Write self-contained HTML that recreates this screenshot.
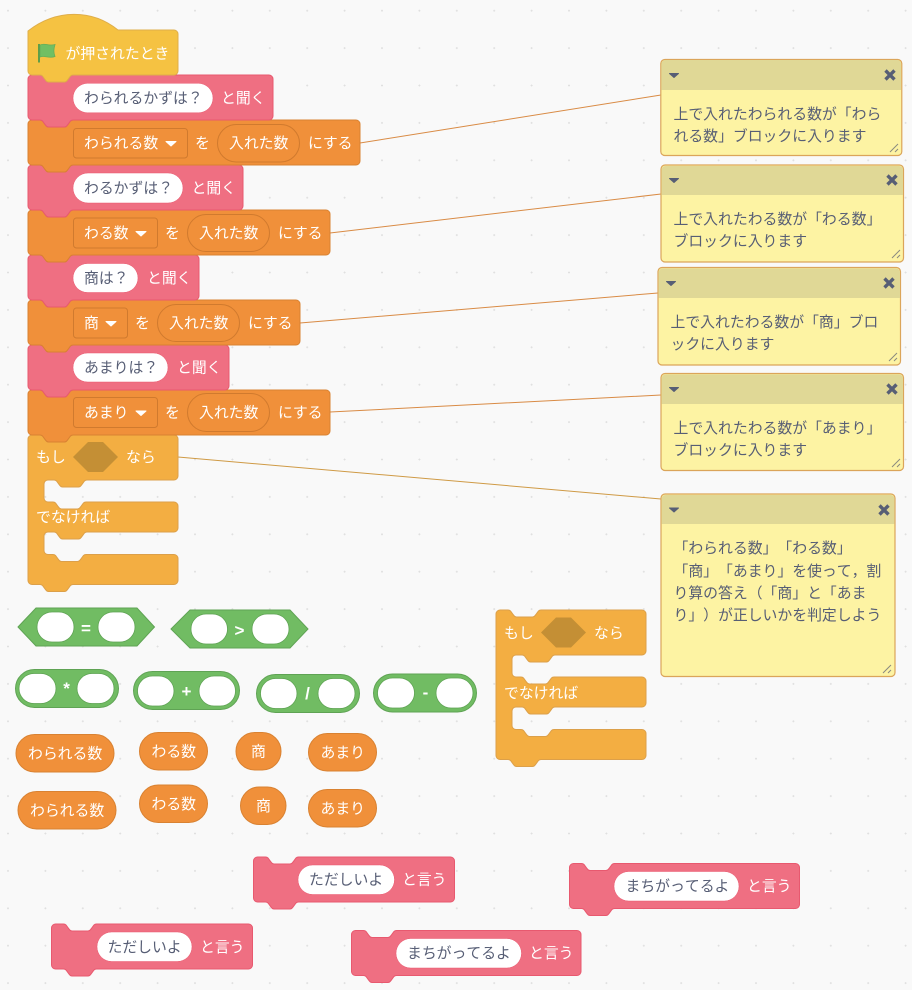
<!DOCTYPE html>
<html lang="ja"><head><meta charset="utf-8"><title>diagram</title>
<style>
html,body{margin:0;padding:0;background:#f9f9f9}
svg{display:block}
text{font-family:"Liberation Sans","Noto Sans CJK JP",sans-serif;font-size:14.85px;text-spacing-trim:space-all;font-kerning:none}
.w{fill:#fff}
.d{fill:#575e75}
.op{font-size:17px;font-weight:bold}
.pk{fill:#ef6f82;stroke:#e8596f;stroke-width:1}
.or{fill:#f0903a;stroke:#d98232;stroke-width:1}
.ct{fill:#f3ae42;stroke:#dca04a;stroke-width:1}
.gr{fill:#71bc63;stroke:#5fa354;stroke-width:1}
.gr2{fill:#71bc63;stroke:#5fa354;stroke-width:1}
.in{fill:#fff;stroke:#e8596f;stroke-width:.5}
.wh{fill:#fff;stroke:#5fa354;stroke-width:.8}
.dd{fill:#f0903a;stroke:#d07a2e;stroke-width:1}
.c{fill:#fdf3a3;stroke:#dba55a;stroke-width:1.2}
.h{fill:#e0d896}
.ln{stroke:#d98b45;stroke-width:1;fill:none}
.ic{fill:#575e75;stroke:#575e75;stroke-linejoin:round}
.x{stroke:#575e75;stroke-width:3.4;fill:none}
.r{stroke:#8a8a80;stroke-width:1;fill:none}
</style></head><body>
<svg width="912" height="990" viewBox="0 0 912 990" xmlns="http://www.w3.org/2000/svg">
<defs>
<pattern id="g" x="6.5" y="9.2" width="37.4" height="37.4" patternUnits="userSpaceOnUse">
<path d="M1.5 0.5v2M.5 1.5h2" stroke="#e0e0e0" stroke-width="1" fill="none"/>
</pattern>
<path id="ifb" class="ct" d="M28 439a4 4 0 0 1 4-4h8c1.5 0 2 .5 2.5 1l3 4c.6.7 1.2 2 3 2h16c1.8 0 2.4-1.3 3-2l3-4c.5-.5 1-1 2.5-1H174a4 4 0 0 1 4 4V476a4 4 0 0 1-4 4H87c-1.5 0-2 .5-2.5 1l-3 4c-.6.7-1.2 2-3 2h-16c-1.8 0-2.4-1.3-3-2l-3-4c-.5-.5-1-1-2.5-1H48a4 4 0 0 0-4 4V498a4 4 0 0 0 4 4H53c1.5 0 2 .5 2.5 1l3 4c.6.7 1.2 2 3 2h16c1.8 0 2.4-1.3 3-2l3-4c.5-.5 1-1 2.5-1H174a4 4 0 0 1 4 4V528a4 4 0 0 1-4 4H87c-1.5 0-2 .5-2.5 1l-3 4c-.6.7-1.2 2-3 2h-16c-1.8 0-2.4-1.3-3-2l-3-4c-.5-.5-1-1-2.5-1H48a4 4 0 0 0-4 4V550.5a4 4 0 0 0 4 4H53c1.5 0 2 .5 2.5 1l3 4c.6.7 1.2 2 3 2h16c1.8 0 2.4-1.3 3-2l3-4c.5-.5 1-1 2.5-1H174a4 4 0 0 1 4 4V580.5a4 4 0 0 1-4 4H73c-1.5 0-2 .5-2.5 1l-3 4c-.6.7-1.2 2-3 2h-16c-1.8 0-2.4-1.3-3-2l-3-4c-.5-.5-1-1-2.5-1H32a4 4 0 0 1-4-4z"/>
</defs>
<rect width="912" height="990" fill="#f9f9f9"/>
<rect width="912" height="990" fill="url(#g)"/>

<!-- connector lines -->
<path class="ln" d="M360 143L661 95M330 233L661 194M300 323L658 293M330 412L661 395"/>
<path class="ln" d="M178 457L661 499" style="stroke:#cf9a45"/>

<!-- main stack, bottom to top -->
<use href="#ifb"/>
<path class="or" d="M28 394a4 4 0 0 1 4-4h8c1.5 0 2 .5 2.5 1l3 4c.6.7 1.2 2 3 2h16c1.8 0 2.4-1.3 3-2l3-4c.5-.5 1-1 2.5-1H326a4 4 0 0 1 4 4v37a4 4 0 0 1-4 4H73c-1.5 0-2 .5-2.5 1l-3 4c-.6.7-1.2 2-3 2h-16c-1.8 0-2.4-1.3-3-2l-3-4c-.5-.5-1-1-2.5-1H32a4 4 0 0 1-4-4z"/>
<path class="pk" d="M28 349a4 4 0 0 1 4-4h8c1.5 0 2 .5 2.5 1l3 4c.6.7 1.2 2 3 2h16c1.8 0 2.4-1.3 3-2l3-4c.5-.5 1-1 2.5-1H225a4 4 0 0 1 4 4v37a4 4 0 0 1-4 4H73c-1.5 0-2 .5-2.5 1l-3 4c-.6.7-1.2 2-3 2h-16c-1.8 0-2.4-1.3-3-2l-3-4c-.5-.5-1-1-2.5-1H32a4 4 0 0 1-4-4z"/>
<path class="or" d="M28 304a4 4 0 0 1 4-4h8c1.5 0 2 .5 2.5 1l3 4c.6.7 1.2 2 3 2h16c1.8 0 2.4-1.3 3-2l3-4c.5-.5 1-1 2.5-1H296a4 4 0 0 1 4 4v37a4 4 0 0 1-4 4H73c-1.5 0-2 .5-2.5 1l-3 4c-.6.7-1.2 2-3 2h-16c-1.8 0-2.4-1.3-3-2l-3-4c-.5-.5-1-1-2.5-1H32a4 4 0 0 1-4-4z"/>
<path class="pk" d="M28 259a4 4 0 0 1 4-4h8c1.5 0 2 .5 2.5 1l3 4c.6.7 1.2 2 3 2h16c1.8 0 2.4-1.3 3-2l3-4c.5-.5 1-1 2.5-1H195a4 4 0 0 1 4 4v37a4 4 0 0 1-4 4H73c-1.5 0-2 .5-2.5 1l-3 4c-.6.7-1.2 2-3 2h-16c-1.8 0-2.4-1.3-3-2l-3-4c-.5-.5-1-1-2.5-1H32a4 4 0 0 1-4-4z"/>
<path class="or" d="M28 214a4 4 0 0 1 4-4h8c1.5 0 2 .5 2.5 1l3 4c.6.7 1.2 2 3 2h16c1.8 0 2.4-1.3 3-2l3-4c.5-.5 1-1 2.5-1H326a4 4 0 0 1 4 4v37a4 4 0 0 1-4 4H73c-1.5 0-2 .5-2.5 1l-3 4c-.6.7-1.2 2-3 2h-16c-1.8 0-2.4-1.3-3-2l-3-4c-.5-.5-1-1-2.5-1H32a4 4 0 0 1-4-4z"/>
<path class="pk" d="M28 169a4 4 0 0 1 4-4h8c1.5 0 2 .5 2.5 1l3 4c.6.7 1.2 2 3 2h16c1.8 0 2.4-1.3 3-2l3-4c.5-.5 1-1 2.5-1H239a4 4 0 0 1 4 4v37a4 4 0 0 1-4 4H73c-1.5 0-2 .5-2.5 1l-3 4c-.6.7-1.2 2-3 2h-16c-1.8 0-2.4-1.3-3-2l-3-4c-.5-.5-1-1-2.5-1H32a4 4 0 0 1-4-4z"/>
<path class="or" d="M28 124a4 4 0 0 1 4-4h8c1.5 0 2 .5 2.5 1l3 4c.6.7 1.2 2 3 2h16c1.8 0 2.4-1.3 3-2l3-4c.5-.5 1-1 2.5-1H356a4 4 0 0 1 4 4v37a4 4 0 0 1-4 4H73c-1.5 0-2 .5-2.5 1l-3 4c-.6.7-1.2 2-3 2h-16c-1.8 0-2.4-1.3-3-2l-3-4c-.5-.5-1-1-2.5-1H32a4 4 0 0 1-4-4z"/>
<path class="pk" d="M28 79a4 4 0 0 1 4-4h8c1.5 0 2 .5 2.5 1l3 4c.6.7 1.2 2 3 2h16c1.8 0 2.4-1.3 3-2l3-4c.5-.5 1-1 2.5-1H269a4 4 0 0 1 4 4v37a4 4 0 0 1-4 4H73c-1.5 0-2 .5-2.5 1l-3 4c-.6.7-1.2 2-3 2h-16c-1.8 0-2.4-1.3-3-2l-3-4c-.5-.5-1-1-2.5-1H32a4 4 0 0 1-4-4z"/>
<path d="M28 31C56 9 92 9 118 30H174a4 4 0 0 1 4 4V71a4 4 0 0 1-4 4H73c-1.5 0-2 .5-2.5 1l-3 4c-.6.7-1.2 2-3 2h-16c-1.8 0-2.4-1.3-3-2l-3-4c-.5-.5-1-1-2.5-1H32a4 4 0 0 1-4-4z" fill="#f5c242" stroke="#dfae4a"/>

<!-- hat -->
<path d="M39 44V62.5" stroke="#4f9a48" stroke-width="1.8" fill="none"/>
<path d="M40 45c5-2.5 8 1.500 15-.5c-1.500 5-1.500 8 0 12c-6 2.500-10-1.500-15 .5z" fill="#71bf63" stroke="#66ad59" stroke-width=".8"/>
<text class="w" x="65.500" y="58.500">が押されたとき</text>

<!-- pink 1 -->
<rect class="in" x="73" y="83.300" width="140" height="29.500" rx="14.700"/>
<text class="d" x="84" y="103">わられるかずは？</text>
<text class="w" x="221" y="103">と聞く</text>
<!-- orange 1 -->
<rect class="dd" x="73.500" y="128.500" width="114" height="29.500" rx="3"/>
<text class="w" x="84" y="148">わられる数</text>
<path class="w" d="M166 141.500h10l-5 4.500z" stroke="#fff" stroke-linejoin="round"/>
<text class="w" x="195" y="148">を</text>
<rect class="dd" x="217.500" y="124.500" width="82" height="37.500" rx="18.700"/>
<text class="w" x="229" y="148">入れた数</text>
<text class="w" x="308" y="148">にする</text>
<!-- pink 2 -->
<rect class="in" x="73" y="173" width="110" height="30" rx="15"/>
<text class="d" x="84" y="193">わるかずは？</text>
<text class="w" x="191.500" y="193">と聞く</text>
<!-- orange 2 -->
<rect class="dd" x="73.500" y="218" width="84" height="30" rx="3"/>
<text class="w" x="84" y="238">わる数</text>
<path class="w" d="M136 231.500h10l-5 4.500z" stroke="#fff" stroke-linejoin="round"/>
<text class="w" x="165" y="238">を</text>
<rect class="dd" x="187.500" y="214.500" width="82" height="37" rx="18.500"/>
<text class="w" x="199" y="238">入れた数</text>
<text class="w" x="278" y="238">にする</text>
<!-- pink 3 -->
<rect class="in" x="73" y="263.500" width="65" height="29" rx="14.500"/>
<text class="d" x="84" y="283">商は？</text>
<text class="w" x="147" y="283">と聞く</text>
<!-- orange 3 -->
<rect class="dd" x="73.500" y="308" width="54" height="30" rx="3"/>
<text class="w" x="84" y="328">商</text>
<path class="w" d="M106 321.500h10l-5 4.500z" stroke="#fff" stroke-linejoin="round"/>
<text class="w" x="135" y="328">を</text>
<rect class="dd" x="157.500" y="304.500" width="82" height="37" rx="18.500"/>
<text class="w" x="169" y="328">入れた数</text>
<text class="w" x="248" y="328">にする</text>
<!-- pink 4 -->
<rect class="in" x="73" y="353" width="95" height="29" rx="14.500"/>
<text class="d" x="84" y="372.500">あまりは？</text>
<text class="w" x="177" y="372.500">と聞く</text>
<!-- orange 4 -->
<rect class="dd" x="73.500" y="397.500" width="84" height="30" rx="3"/>
<text class="w" x="84" y="417.500">あまり</text>
<path class="w" d="M136 411h10l-5 4.500z" stroke="#fff" stroke-linejoin="round"/>
<text class="w" x="165" y="417.500">を</text>
<rect class="dd" x="187.500" y="393.500" width="82" height="38" rx="19"/>
<text class="w" x="199" y="417.500">入れた数</text>
<text class="w" x="278" y="417.500">にする</text>
<!-- if 1 -->
<text class="w" x="36" y="462">もし</text>
<path d="M73 457L88 442H103L118 457L103 472H88z" fill="#c48f35"/>
<text class="w" x="126" y="462">なら</text>
<text class="w" x="36" y="522">でなければ</text>

<!-- if 2 -->
<use href="#ifb" transform="translate(468 175)"/>
<text class="w" x="504" y="638">もし</text>
<path d="M541 632.500L556 617.500H571L586 632.500L571 647.500H556z" fill="#c48f35"/>
<text class="w" x="594" y="638">なら</text>
<text class="w" x="504" y="698">でなければ</text>

<!-- green hexagons -->
<path class="gr" d="M18 627L36 608H137L154.500 627L137 646H36z"/>
<rect class="wh" x="37" y="612" width="37" height="30" rx="15"/>
<rect class="wh" x="98" y="612" width="37" height="30" rx="15"/>
<text class="w op" x="86" y="634" text-anchor="middle">=</text>
<path class="gr" d="M171 629L190 610H290L308 629L290 648H190z"/>
<rect class="wh" x="191" y="614" width="36.500" height="30" rx="15"/>
<rect class="wh" x="252" y="614" width="37" height="30" rx="15"/>
<text class="w op" x="239.500" y="636" text-anchor="middle">&gt;</text>

<!-- green rounded -->
<rect class="gr2" x="15.500" y="669.500" width="103" height="38" rx="19"/>
<rect class="wh" x="19" y="673.500" width="37" height="30" rx="15"/>
<rect class="wh" x="77" y="673.500" width="37" height="30" rx="15"/>
<text class="w op" x="66.500" y="694" text-anchor="middle">*</text>
<rect class="gr2" x="133.500" y="671.500" width="106" height="38" rx="19"/>
<rect class="wh" x="137.500" y="676" width="36.500" height="30" rx="15"/>
<rect class="wh" x="199" y="676" width="36.500" height="30" rx="15"/>
<text class="w op" x="186.500" y="697" text-anchor="middle">+</text>
<rect class="gr2" x="256.500" y="674.500" width="103" height="38" rx="19"/>
<rect class="wh" x="260.500" y="678.500" width="36.500" height="30" rx="15"/>
<rect class="wh" x="318" y="678.500" width="37" height="30" rx="15"/>
<text class="w op" x="307.500" y="699" text-anchor="middle">/</text>
<rect class="gr2" x="373.500" y="674" width="103" height="38" rx="19"/>
<rect class="wh" x="377.500" y="678" width="37" height="30" rx="15"/>
<rect class="wh" x="436" y="678" width="37" height="30" rx="15"/>
<text class="w op" x="425.500" y="698" text-anchor="middle">-</text>

<!-- orange reporters -->
<rect class="or" x="16" y="734.500" width="98" height="37.500" rx="18.700"/>
<text class="w" x="28" y="758.500">わられる数</text>
<rect class="or" x="139.500" y="732.500" width="68" height="37.500" rx="18.700"/>
<text class="w" x="151.500" y="756.500">わる数</text>
<rect class="or" x="236" y="732.500" width="45" height="37.500" rx="18.700"/>
<text class="w" x="251" y="756.500">商</text>
<rect class="or" x="308.500" y="733.500" width="68" height="37.500" rx="18.700"/>
<text class="w" x="320.500" y="757.500">あまり</text>
<rect class="or" x="18" y="791.500" width="98" height="37.500" rx="18.700"/>
<text class="w" x="30" y="815.500">わられる数</text>
<rect class="or" x="139.500" y="785" width="68" height="37.500" rx="18.700"/>
<text class="w" x="151.500" y="809">わる数</text>
<rect class="or" x="240.500" y="787" width="45.500" height="37.500" rx="18.700"/>
<text class="w" x="256" y="811">商</text>
<rect class="or" x="308.500" y="789.500" width="68" height="37.500" rx="18.700"/>
<text class="w" x="320.500" y="813.500">あまり</text>

<!-- say blocks -->
<path class="pk" d="M253.500 861a4 4 0 0 1 4-4h8c1.5 0 2 .5 2.5 1l3 4c.6.7 1.2 2 3 2h16c1.8 0 2.4-1.3 3-2l3-4c.5-.5 1-1 2.5-1H450.500a4 4 0 0 1 4 4v37a4 4 0 0 1-4 4H298.500c-1.5 0-2 .5-2.5 1l-3 4c-.6.7-1.2 2-3 2h-16c-1.8 0-2.4-1.3-3-2l-3-4c-.5-.5-1-1-2.5-1H257.500a4 4 0 0 1-4-4z"/>
<rect class="in" x="298" y="865" width="96.500" height="29.500" rx="14.700"/>
<text class="d" x="309" y="884.500">ただしいよ</text>
<text class="w" x="402" y="884.500">と言う</text>

<path class="pk" d="M51.500 928a4 4 0 0 1 4-4h8c1.5 0 2 .5 2.5 1l3 4c.6.7 1.2 2 3 2h16c1.8 0 2.4-1.3 3-2l3-4c.5-.5 1-1 2.5-1H248.500a4 4 0 0 1 4 4v37a4 4 0 0 1-4 4H96.500c-1.5 0-2 .5-2.5 1l-3 4c-.6.7-1.2 2-3 2h-16c-1.8 0-2.4-1.3-3-2l-3-4c-.5-.5-1-1-2.5-1H55.500a4 4 0 0 1-4-4z"/>
<rect class="in" x="97" y="932" width="95" height="29.500" rx="14.700"/>
<text class="d" x="107.500" y="952">ただしいよ</text>
<text class="w" x="200" y="952">と言う</text>

<path class="pk" d="M569.500 867.500a4 4 0 0 1 4-4h8c1.5 0 2 .5 2.5 1l3 4c.6.7 1.2 2 3 2h16c1.8 0 2.4-1.3 3-2l3-4c.5-.5 1-1 2.5-1H795.500a4 4 0 0 1 4 4v37a4 4 0 0 1-4 4H614.500c-1.5 0-2 .5-2.5 1l-3 4c-.6.7-1.2 2-3 2h-16c-1.8 0-2.4-1.3-3-2l-3-4c-.5-.5-1-1-2.5-1H573.500a4 4 0 0 1-4-4z"/>
<rect class="in" x="614" y="871.500" width="125" height="29.500" rx="14.700"/>
<text class="d" x="625.500" y="891">まちがってるよ</text>
<text class="w" x="747" y="891">と言う</text>

<path class="pk" d="M351.500 934.500a4 4 0 0 1 4-4h8c1.5 0 2 .5 2.5 1l3 4c.6.7 1.2 2 3 2h16c1.8 0 2.4-1.3 3-2l3-4c.5-.5 1-1 2.5-1H577a4 4 0 0 1 4 4v37a4 4 0 0 1-4 4H396.500c-1.5 0-2 .5-2.5 1l-3 4c-.6.7-1.2 2-3 2h-16c-1.8 0-2.4-1.3-3-2l-3-4c-.5-.5-1-1-2.5-1H355.500a4 4 0 0 1-4-4z"/>
<rect class="in" x="396" y="938.500" width="125.500" height="29.500" rx="14.700"/>
<text class="d" x="407" y="958">まちがってるよ</text>
<text class="w" x="529" y="958">と言う</text>

<!-- comment 1 -->
<rect class="c" x="660.800" y="59.500" width="241" height="96" rx="4"/>
<path class="h" d="M661.400 90V64a4 4 0 0 1 4-4H897a4 4 0 0 1 4 4V90z"/>
<path class="ic" d="M669.500 73.500h9l-4.500 4z"/>
<path class="x" d="M885.500 70.500l9 9M894.500 70.500l-9 9"/>
<text class="d" x="673.500" y="119">上で入れたわられる数が「わら</text>
<text class="d" x="673.500" y="141">れる数」ブロックに入ります</text>
<path class="r" d="M890 152l8-8M895 152l3-3"/>
<!-- comment 2 -->
<rect class="c" x="661" y="165" width="242.500" height="97" rx="4"/>
<path class="h" d="M661.600 195V170a4 4 0 0 1 4-4H899a4 4 0 0 1 4 4V195z"/>
<path class="ic" d="M669.500 178.500h9l-4.500 4z"/>
<path class="x" d="M887.500 175.500l9 9M896.500 175.500l-9 9"/>
<text class="d" x="673.500" y="224">上で入れたわる数が「わる数」</text>
<text class="d" x="673.500" y="246">ブロックに入ります</text>
<path class="r" d="M892 258l8-8M897 258l3-3"/>
<!-- comment 3 -->
<rect class="c" x="658" y="267.500" width="242.500" height="97.500" rx="4"/>
<path class="h" d="M658.600 298V272.500a4 4 0 0 1 4-4H896a4 4 0 0 1 4 4V298z"/>
<path class="ic" d="M666.500 281.500h9l-4.500 4z"/>
<path class="x" d="M884.500 278.500l9 9M893.500 278.500l-9 9"/>
<text class="d" x="670.500" y="327">上で入れたわる数が「商」ブロ</text>
<text class="d" x="670.500" y="349">ックに入ります</text>
<path class="r" d="M889 361l8-8M894 361l3-3"/>
<!-- comment 4 -->
<rect class="c" x="661" y="373.500" width="242.500" height="97" rx="4"/>
<path class="h" d="M661.600 404V378.500a4 4 0 0 1 4-4H899a4 4 0 0 1 4 4V404z"/>
<path class="ic" d="M669.500 387.500h9l-4.500 4z"/>
<path class="x" d="M887.500 384.500l9 9M896.500 384.500l-9 9"/>
<text class="d" x="673.500" y="433">上で入れたわる数が「あまり」</text>
<text class="d" x="673.500" y="455">ブロックに入ります</text>
<path class="r" d="M892 467l8-8M897 467l3-3"/>
<!-- comment 5 -->
<rect class="c" x="661" y="494" width="234" height="182.500" rx="4"/>
<path class="h" d="M661.600 524V499a4 4 0 0 1 4-4H890.500a4 4 0 0 1 4 4V524z"/>
<path class="ic" d="M669.500 508h9l-4.500 4z"/>
<path class="x" d="M879.500 505.500l9 9M888.500 505.500l-9 9"/>
<text class="d" x="673.500" y="553">「わられる数」「わる数」</text>
<text class="d" x="673.500" y="576">「商」「あまり」を使って，割</text>
<text class="d" x="673.500" y="598">り算の答え（「商」と「あま</text>
<text class="d" x="673.500" y="620">り」）が正しいかを判定しよう</text>
<path class="r" d="M883 673l8-8M888 673l3-3"/>
</svg>
</body></html>
